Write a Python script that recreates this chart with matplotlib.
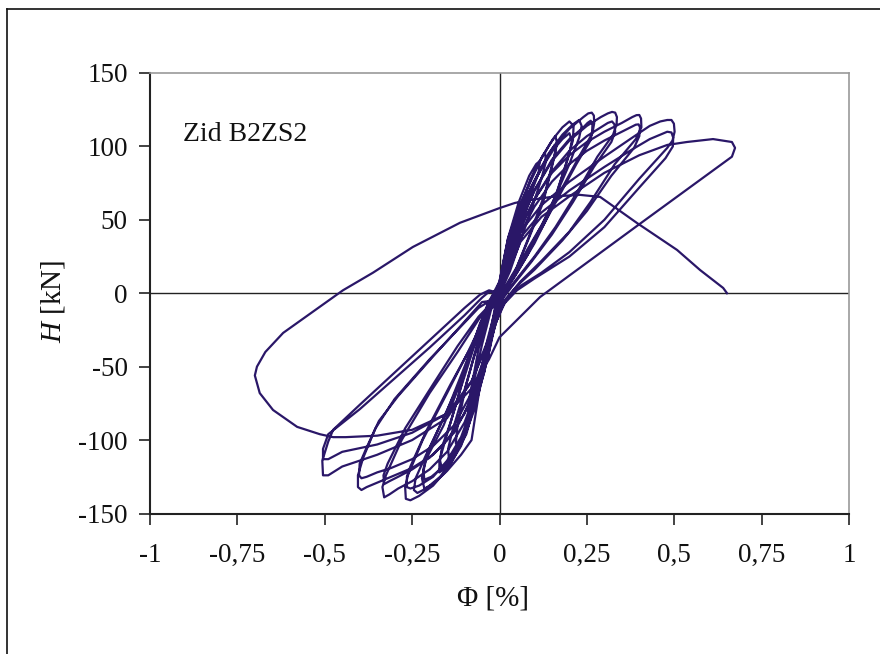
import matplotlib
matplotlib.use("Agg")
import matplotlib.pyplot as plt
from matplotlib.lines import Line2D

plt.rcParams['font.family'] = ['Liberation Serif', 'DejaVu Serif']
plt.rcParams['mathtext.fontset'] = 'custom'
plt.rcParams['mathtext.it'] = 'Liberation Serif:italic'
plt.rcParams['mathtext.rm'] = 'Liberation Serif'
plt.rcParams['axes.unicode_minus'] = False

# cyclic test, each cycle = positive lobe then negative lobe (Phi in %, H in kN)
phi_c0 = [0.0, 0.01, 0.025, 0.035, 0.038, 0.03, 0.01, -0.01, -0.03, -0.045, -0.048, -0.04, -0.02, 0.0]
h_c0 = [0, 15, 32, 42, 40, 30, 10, -15, -40, -55, -52, -40, -20, -2]

phi_c1 = [0.0, 0.015, 0.035, 0.055, 0.068, 0.07, 0.06, 0.035, 0.01, -0.015, -0.04, -0.06, -0.075, -0.08, -0.075, -0.05, -0.025]
h_c1 = [-2, 18, 40, 56, 65, 60, 50, 30, 8, -20, -48, -66, -78, -74, -62, -35, -12]

phi_c1b = [-0.025, 0.0, 0.02, 0.045, 0.065, 0.078, 0.08, 0.068, 0.04, 0.005, -0.02, -0.045, -0.07, -0.085, -0.09, -0.085, -0.06, -0.03]
h_c1b = [-12, 6, 30, 50, 62, 68, 62, 52, 30, 5, -22, -55, -75, -85, -82, -70, -38, -12]

phi_c2 = [-0.03, 0.0, 0.025, 0.055, 0.085, 0.105, 0.115, 0.112, 0.09, 0.06, 0.03, -0.01, -0.035, -0.065, -0.095, -0.115, -0.125, -0.12, -0.095, -0.065, -0.035]
h_c2 = [-12, 8, 38, 62, 80, 88, 90, 82, 68, 45, 20, -8, -40, -72, -94, -104, -102, -90, -62, -36, -12]

phi_c2b = [-0.03, 0.0, 0.03, 0.06, 0.09, 0.115, 0.13, 0.133, 0.12, 0.09, 0.06, 0.03, -0.01, -0.035, -0.075, -0.105, -0.13, -0.145, -0.147, -0.135, -0.105, -0.075, -0.045, -0.025]
h_c2b = [-8, 4, 34, 58, 78, 90, 96, 90, 78, 56, 36, 15, -6, -38, -75, -98, -108, -112, -106, -94, -70, -45, -22, -8]

phi_c3 = [-0.025, 0.0, 0.03, 0.06, 0.09, 0.12, 0.145, 0.16, 0.165, 0.155, 0.13, 0.09, 0.05, 0.005, -0.025, -0.055, -0.095, -0.135, -0.16, -0.172, -0.172, -0.15, -0.12, -0.09, -0.055, -0.025]
h_c3 = [-10, 6, 38, 60, 78, 92, 102, 107, 102, 92, 68, 42, 18, 0, -28, -62, -94, -112, -120, -122, -114, -96, -72, -45, -20, -8]

phi_c3b = [-0.025, 0.0, 0.03, 0.06, 0.09, 0.12, 0.145, 0.158, 0.16, 0.15, 0.125, 0.085, 0.045, -0.005, -0.035, -0.065, -0.105, -0.145, -0.165, -0.17, -0.165, -0.14, -0.11, -0.075, -0.04]
h_c3b = [-8, 5, 34, 55, 72, 86, 96, 101, 96, 86, 62, 38, 15, -5, -35, -68, -98, -114, -119, -114, -105, -88, -64, -38, -15]

phi_c4 = [-0.035, 0.0, 0.024, 0.05, 0.079, 0.12, 0.153, 0.18, 0.2, 0.212, 0.21, 0.19, 0.16, 0.12, 0.08, 0.04, 0.005, -0.025, -0.055, -0.08, -0.11, -0.15, -0.19, -0.215, -0.222, -0.21, -0.16, -0.12, -0.08, -0.05, -0.03]
h_c4 = [-8, 8, 37, 55, 71, 92, 105, 113, 117, 114, 104, 88, 66, 45, 26, 10, -2, -25, -62, -100, -110, -121, -130, -133, -126, -113, -90, -66, -40, -18, -5]

phi_c4b = [-0.03, 0.0, 0.03, 0.06, 0.09, 0.12, 0.155, 0.18, 0.2, 0.207, 0.2, 0.18, 0.15, 0.1, 0.05, -0.005, -0.035, -0.065, -0.095, -0.125, -0.16, -0.195, -0.215, -0.218, -0.205, -0.15, -0.1, -0.06, -0.03]
h_c4b = [-6, 6, 36, 56, 72, 85, 98, 105, 109, 104, 95, 80, 58, 34, 14, -5, -32, -66, -94, -108, -118, -125, -127, -120, -108, -80, -50, -24, -6]

phi_c4c = [-0.03, 0.0, 0.03, 0.06, 0.1, 0.14, 0.18, 0.21, 0.228, 0.235, 0.228, 0.2, 0.16, 0.12, 0.08, 0.04, 0.005, -0.025, -0.055, -0.095, -0.135, -0.17, -0.21, -0.235, -0.245, -0.24, -0.21, -0.17, -0.12, -0.08, -0.05, -0.02]
h_c4c = [-6, 2, 32, 54, 76, 95, 108, 115, 118, 114, 106, 88, 66, 46, 28, 12, 0, -28, -62, -96, -114, -125, -133, -136, -134, -126, -110, -90, -64, -40, -20, -6]

phi_c5 = [-0.02, 0.0, 0.03, 0.06, 0.1, 0.15, 0.2, 0.24, 0.254, 0.264, 0.27, 0.271, 0.266, 0.23, 0.18, 0.13, 0.08, 0.04, 0.0, -0.03, -0.07, -0.11, -0.15, -0.19, -0.23, -0.255, -0.268, -0.27, -0.262, -0.22, -0.15, -0.09, -0.04, -0.02]
h_c5 = [-8, 0, 30, 52, 76, 98, 112, 120, 122.5, 123, 121, 116, 109, 94, 72, 50, 30, 12, -8, -40, -78, -104, -120, -131, -138, -141, -140, -132, -124, -100, -68, -40, -15, -5]

phi_c6 = [-0.02, 0.0, 0.03, 0.06, 0.1, 0.15, 0.2, 0.24, 0.252, 0.261, 0.266, 0.265, 0.26, 0.22, 0.17, 0.12, 0.07, 0.03, 0.0, -0.03, -0.07, -0.11, -0.15, -0.19, -0.23, -0.255, -0.265, -0.265, -0.255, -0.21, -0.14, -0.08, -0.04, -0.02]
h_c6 = [-5, 0, 27, 48, 70, 91, 105, 113, 116, 117.5, 115, 110, 104, 88, 66, 44, 24, 8, -8, -38, -72, -98, -114, -125, -131, -133, -132, -125, -118, -94, -62, -36, -15, -5]

phi_c7 = [-0.02, 0.0, 0.03, 0.06, 0.1, 0.15, 0.2, 0.25, 0.29, 0.31, 0.322, 0.331, 0.336, 0.335, 0.325, 0.28, 0.22, 0.16, 0.1, 0.05, 0.01, -0.02, -0.06, -0.1, -0.15, -0.2, -0.25, -0.29, -0.315, -0.33, -0.335, -0.325, -0.28, -0.2, -0.12, -0.06, -0.02]
h_c7 = [-10, 0, 28, 48, 70, 90, 104, 114, 120, 122.5, 123.5, 123, 120, 115, 108, 93, 68, 45, 25, 10, -2, -28, -62, -88, -108, -120, -128, -133, -137, -139, -132, -124, -100, -68, -40, -18, -6]

phi_c8 = [-0.02, 0.0, 0.03, 0.06, 0.1, 0.15, 0.2, 0.25, 0.29, 0.31, 0.322, 0.329, 0.331, 0.32, 0.27, 0.21, 0.15, 0.09, 0.04, 0.005, -0.02, -0.06, -0.1, -0.15, -0.2, -0.25, -0.29, -0.315, -0.33, -0.332, -0.32, -0.27, -0.19, -0.12, -0.06, -0.02]
h_c8 = [-6, 0, 25, 44, 64, 83, 97, 107, 113, 116, 117, 115, 110, 103, 86, 62, 40, 21, 6, -5, -26, -58, -82, -100, -112, -120, -125, -128, -130, -124, -116, -92, -62, -36, -16, -6]

phi_c9 = [-0.02, 0.0, 0.03, 0.06, 0.1, 0.15, 0.2, 0.25, 0.3, 0.35, 0.38, 0.392, 0.4, 0.405, 0.406, 0.39, 0.33, 0.26, 0.2, 0.12, 0.06, 0.02, 0.0, -0.04, -0.08, -0.13, -0.19, -0.25, -0.31, -0.35, -0.38, -0.395, -0.405, -0.405, -0.39, -0.355, -0.3, -0.2, -0.12, -0.06, -0.02]
h_c9 = [-6, 0, 26, 45, 64, 82, 94, 103, 110, 116, 120, 121.3, 121.4, 119, 113, 105, 88, 62, 42, 22, 8, -4, -12, -45, -72, -95, -110, -119, -125, -129, -132, -134, -132, -124, -112, -92, -72, -45, -25, -10, -4]

phi_c10 = [-0.02, 0.0, 0.03, 0.06, 0.1, 0.15, 0.2, 0.25, 0.3, 0.35, 0.375, 0.39, 0.398, 0.402, 0.4, 0.385, 0.32, 0.25, 0.18, 0.1, 0.05, 0.01, 0.0, -0.04, -0.08, -0.13, -0.19, -0.25, -0.31, -0.35, -0.38, -0.395, -0.402, -0.4, -0.38, -0.345, -0.29, -0.19, -0.11, -0.05, -0.02]
h_c10 = [-4, 0, 23, 41, 59, 76, 88, 97, 104, 110, 113, 114.8, 115, 113, 107, 99, 80, 56, 36, 16, 5, -6, -12, -42, -68, -90, -104, -113, -119, -122, -125, -126, -124, -116, -105, -87, -70, -43, -22, -6, -5]

phi_c11 = [-0.02, 0.0, 0.03, 0.06, 0.12, 0.2, 0.3, 0.38, 0.43, 0.46, 0.48, 0.492, 0.499, 0.501, 0.495, 0.48, 0.4, 0.3, 0.2, 0.12, 0.06, 0.02, -0.03, -0.08, -0.15, -0.25, -0.35, -0.45, -0.49, -0.505, -0.507, -0.49, -0.476, -0.4, -0.3, -0.2, -0.1, -0.056, -0.03]
h_c11 = [-5, 0, 24, 42, 60, 76, 93, 106, 114, 117, 118, 118, 115.5, 110, 104, 99, 78, 50, 28, 14, 5, -4, -30, -60, -85, -100, -110, -118, -124, -124, -114, -101, -93, -76, -54, -32, -10, -1, 2]

phi_c12 = [-0.03, 0.0, 0.03, 0.06, 0.12, 0.2, 0.3, 0.38, 0.43, 0.46, 0.48, 0.492, 0.497, 0.496, 0.475, 0.4, 0.3, 0.2, 0.1, 0.05, 0.01, -0.03, -0.08, -0.15, -0.25, -0.35, -0.45, -0.49, -0.505, -0.505, -0.49, -0.4, -0.3, -0.2, -0.1, -0.05, -0.03]
h_c12 = [2, 0, 22, 38, 55, 70, 86, 98, 105, 108, 110, 109.5, 106, 100, 92, 72, 45, 25, 10, 2, -8, -32, -60, -82, -95, -103, -108, -113, -113, -106, -96, -79, -58, -37, -15, -3, 1]

# last large cycle and failure branch
phi_last = [-0.03, 0.0, 0.06, 0.12, 0.2, 0.3, 0.4, 0.48, 0.536, 0.611, 0.665, 0.674, 0.665, 0.4, 0.116, 0.0, -0.03, -0.08, -0.15, -0.25, -0.35, -0.44, -0.476, -0.514, -0.579, -0.648, -0.686, -0.70, -0.694, -0.67, -0.619, -0.448, -0.362, -0.248, -0.113, 0.0, 0.044, 0.1, 0.16, 0.23, 0.288, 0.393, 0.508, 0.574, 0.64, 0.651]
h_last = [1, 0, 35, 52, 66, 82, 94, 101, 103, 105, 103, 99, 93, 47, -2.6, -30, -45, -65, -82, -93, -97, -98, -98, -96, -91, -79.5, -68, -56, -50, -40, -27, 2, 14, 31.5, 48, 58, 61.5, 64, 66, 67, 65.6, 47.9, 29.5, 15.8, 3.6, 0]

phi_all = (phi_c0 + phi_c1 + phi_c1b + phi_c2 + phi_c2b + phi_c3 + phi_c3b + phi_c4
           + phi_c4b + phi_c4c + phi_c5 + phi_c6 + phi_c7 + phi_c8 + phi_c9 + phi_c10
           + phi_c11 + phi_c12 + phi_last)
h_all = (h_c0 + h_c1 + h_c1b + h_c2 + h_c2b + h_c3 + h_c3b + h_c4
         + h_c4b + h_c4c + h_c5 + h_c6 + h_c7 + h_c8 + h_c9 + h_c10
         + h_c11 + h_c12 + h_last)

x_ticks = [-1, -0.75, -0.5, -0.25, 0, 0.25, 0.5, 0.75, 1]
x_labels = ['-1', '-0,75', '-0,5', '-0,25', '0', '0,25', '0,5', '0,75', '1']
y_ticks = [-150, -100, -50, 0, 50, 100, 150]

fig = plt.figure(figsize=(8.8, 6.54), dpi=100)
ax = fig.add_axes([150 / 880, 1 - 513.5 / 654, 699 / 880, 440.5 / 654])

ax.axhline(0, color='#222222', lw=1.0, zorder=1)
ax.axvline(0, color='#222222', lw=1.0, zorder=1)
ax.plot(phi_all, h_all, color='#2a1768', lw=1.6, zorder=2)

ax.set_xlim(-1, 1)
ax.set_ylim(-150, 150)
ax.set_xticks(x_ticks)
ax.set_xticklabels(x_labels)
ax.set_yticks(y_ticks)
ax.tick_params(axis='both', direction='out', length=8, width=1.2, labelsize=19.5,
               color='#222222', labelcolor='#111111')
ax.tick_params(axis='x', pad=13)
ax.tick_params(axis='y', pad=8)
for s in ['left', 'bottom']:
    ax.spines[s].set_color('#222222')
    ax.spines[s].set_linewidth(1.5)
for s in ['top', 'right']:
    ax.spines[s].set_color('#9a9a9a')
    ax.spines[s].set_linewidth(1.2)

ax.text(-0.905, 108, 'Zid B2ZS2', fontsize=20, va='center', ha='left', color='#111111')

fig.text(493 / 880, 1 - 599 / 654, 'Φ [%]', fontsize=21, ha='center', va='center', color='#111111')
fig.text(53 / 880, 1 - 301 / 654, '$H$ [kN]', fontsize=21, ha='center', va='center',
         rotation=90, color='#111111')

# outer frame (top and left edges visible)
fig.add_artist(Line2D([7 / 880, 7 / 880], [0, 1 - 9 / 654], transform=fig.transFigure,
                      color='#111111', lw=1.2))
fig.add_artist(Line2D([7 / 880, 1], [1 - 9 / 654, 1 - 9 / 654], transform=fig.transFigure,
                      color='#111111', lw=1.2))

fig.savefig("out.png", dpi=100)
